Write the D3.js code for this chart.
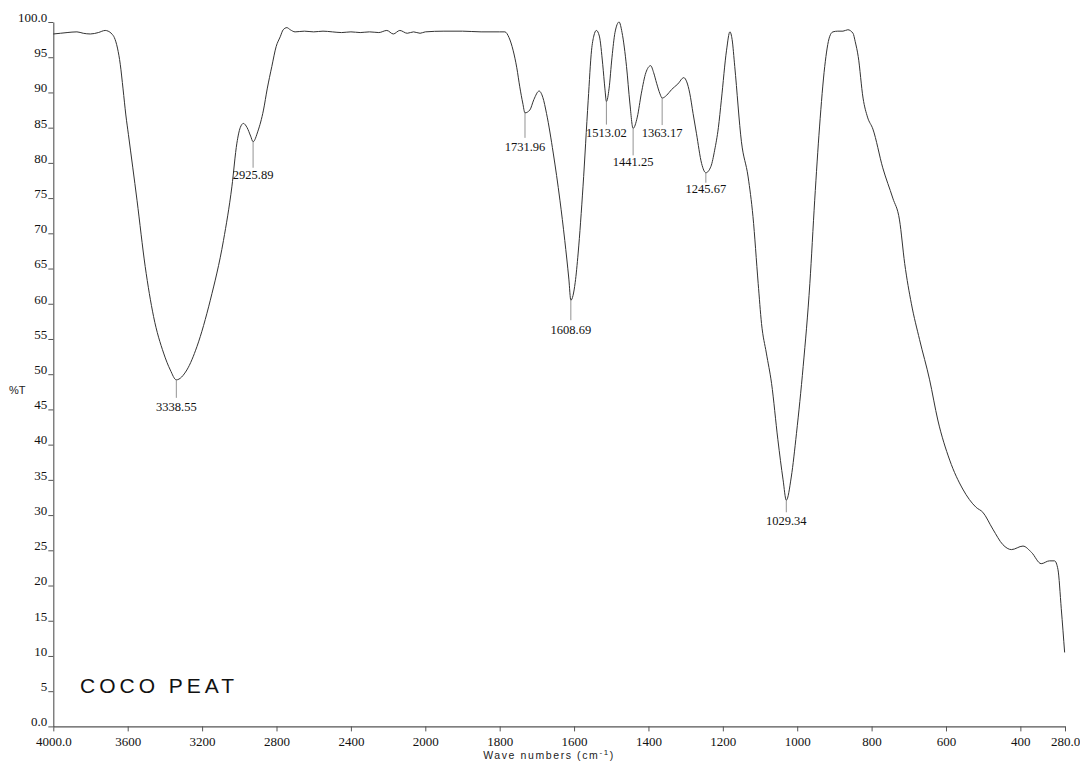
<!DOCTYPE html>
<html>
<head>
<meta charset="utf-8">
<script src="https://cdnjs.cloudflare.com/ajax/libs/d3/7.8.5/d3.min.js"></script>
<style>
  html, body { margin: 0; padding: 0; background: #fff; }
  svg { display: block; }
</style>
</head>
<body>
<svg id="chart" width="1080" height="761"></svg>
<script>
// ---- data ----
const wavenumbers = [
  4000, 3962, 3926, 3873, 3839, 3801, 3758, 3721, 3705, 3685, 3672, 3655, 3640, 3625, 3610, 3596, 3550, 3506,
  3461, 3407, 3371, 3338.55, 3282, 3228, 3156, 3085, 3040, 3013, 2995, 2978, 2958, 2939, 2925.89,
  2900, 2870, 2850, 2825, 2802, 2780, 2764, 2744, 2726, 2700, 2650, 2600, 2550, 2500, 2450, 2400,
  2350, 2300, 2250, 2207, 2172, 2137, 2097, 2063, 2028, 2000, 1950, 1900, 1850, 1800, 1786,
  1775, 1764, 1754, 1746, 1738, 1731.96, 1719, 1708, 1694, 1684, 1674, 1656, 1638, 1625, 1614,
  1608.69, 1597, 1589, 1576, 1562, 1553, 1547, 1540, 1532, 1523, 1517, 1513.02, 1506, 1498, 1490,
  1479, 1471, 1459, 1450, 1441.25, 1430, 1419, 1407, 1394, 1386, 1378, 1369, 1363.17, 1351, 1338,
  1321, 1305, 1297, 1289, 1280, 1271, 1257, 1245.67, 1232, 1222, 1212, 1204, 1190, 1181, 1175,
  1168, 1150, 1132, 1119, 1105, 1096, 1083, 1069, 1052, 1038, 1029.34, 1016, 1002, 984, 966,
  953, 940, 926, 913, 904, 891, 877, 864, 850, 844, 836, 823, 811, 796.5, 770, 743, 725, 711,
  693, 671, 644, 622, 590, 555, 519, 501, 474, 447, 424, 393, 370, 344, 322, 308, 299, 290, 281
];
const transmittance = [
  98.3, 98.4, 98.5, 98.6, 98.4, 98.3, 98.5, 98.8, 98.7, 98.3, 97.8, 96.3, 94.0, 90.5, 86.8, 84.0, 74.7, 65.3,
  58.2, 53.0, 50.6, 49.2, 50.6, 53.9, 60.5, 69.0, 76.6, 82.8, 85.0, 85.6, 85.0, 83.8, 83.0,
  84.5, 87.5, 90.5, 93.7, 96.5, 97.9, 98.9, 99.2, 98.9, 98.6, 98.7, 98.6, 98.7, 98.6, 98.5, 98.6,
  98.5, 98.6, 98.5, 98.8, 98.3, 98.8, 98.4, 98.6, 98.4, 98.6, 98.7, 98.7, 98.6, 98.6, 98.6,
  97.8, 96.0, 93.5, 90.8, 88.5, 87.1, 87.5, 89.0, 90.2, 89.3, 87.0, 81.4, 74.7, 69.0, 63.5,
  60.5, 63.0, 67.2, 76.6, 88.9, 96.0, 98.0, 98.8, 98.0, 94.0, 90.5, 88.7, 90.5, 95.0, 98.5,
  100.0, 98.5, 93.7, 88.5, 84.9, 86.5, 89.9, 92.8, 93.8, 92.8, 91.3, 89.8, 89.2, 89.6, 90.4,
  91.2, 92.1, 91.5, 89.9, 87.0, 84.2, 79.9, 78.6, 79.5, 81.8, 85.0, 88.9, 96.0, 98.6, 97.5,
  93.7, 83.0, 78.0, 72.4, 62.9, 57.2, 53.0, 48.7, 40.7, 35.0, 32.1, 35.4, 41.6, 51.1, 62.9,
  74.7, 85.1, 93.7, 97.9, 98.6, 98.7, 98.7, 98.9, 98.4, 97.2, 95.1, 89.2, 86.5, 84.8, 79.3, 75.0, 71.9, 65.7,
  60.0, 54.9, 49.2, 43.5, 37.8, 33.7, 31.1, 30.4, 28.0, 25.8, 25.1, 25.6, 24.7, 23.1, 23.5, 23.5, 22.3, 16.7, 10.5
];
const peakWavenumbers = [3338.55, 2925.89, 1731.96, 1608.69, 1513.02, 1441.25, 1363.17, 1245.67, 1029.34];
const peakTransmittance = [49.2, 83.0, 87.1, 60.5, 88.7, 84.9, 89.2, 78.6, 32.1];
const peakLabels = ["3338.55", "2925.89", "1731.96", "1608.69", "1513.02", "1441.25", "1363.17", "1245.67", "1029.34"];
const xTickValues = [4000, 3600, 3200, 2800, 2400, 2000, 1800, 1600, 1400, 1200, 1000, 800, 600, 400, 280];
const yTickValues = [0, 5, 10, 15, 20, 25, 30, 35, 40, 45, 50, 55, 60, 65, 70, 75, 80, 85, 90, 95, 100];
const xTitle = "Wave numbers (cm";
const yTitle = "%T";
const sampleName = "COCO PEAT";

// ---- layout ----
const labelLine = [18, 26, 25, 20, 23, 27, 27, 10, 12];   // leader length below the dip (px)
const labelBase = [31, 37, 38, 34, 35, 38, 39, 20, 25];   // label baseline below the dip (px)

const svg = d3.select("#chart");
const x = d3.scaleLinear().domain([4000, 2000, 280]).range([53.3, 425.3, 1065]);
const y = d3.scaleLinear().domain([0, 100]).range([726.4, 22]);

const serif = "'Liberation Serif', 'Times New Roman', serif";
const sans = "'Liberation Sans', Arial, sans-serif";

// x axis
const xAxis = svg.append("g")
  .attr("transform", `translate(0,${y(0)})`)
  .call(d3.axisBottom(x).tickValues(xTickValues).tickSize(5).tickSizeOuter(0)
    .tickFormat(d => (d === 4000 || d === 280) ? d3.format(".1f")(d) : String(d)));
xAxis.select(".domain").attr("stroke", "#555").attr("stroke-width", 1.1);
xAxis.selectAll(".tick line").attr("stroke", "#555");
xAxis.selectAll(".tick text").attr("font-family", serif).attr("font-size", 13)
  .attr("fill", "#111").attr("dy", "0.71em").attr("y", 10);

// y axis
const yAxis = svg.append("g")
  .attr("transform", `translate(${x(4000)},0)`)
  .call(d3.axisLeft(y).tickValues(yTickValues).tickSize(5).tickSizeOuter(0)
    .tickFormat(d => (d === 0 || d === 100) ? d3.format(".1f")(d) : String(d)));
yAxis.select(".domain").attr("stroke", "#555").attr("stroke-width", 1.1);
yAxis.selectAll(".tick line").attr("stroke", "#555");
yAxis.selectAll(".tick text").attr("font-family", serif).attr("font-size", 13)
  .attr("fill", "#111").attr("x", -6).attr("dy", "-0.05em");

// axis titles
const xt = svg.append("text")
  .attr("x", 549).attr("y", 759)
  .attr("text-anchor", "middle")
  .attr("font-family", sans).attr("font-size", 10.5).attr("letter-spacing", 1.6)
  .attr("fill", "#222");
xt.append("tspan").text(xTitle);
xt.append("tspan").attr("dy", -4).attr("font-size", 8).text("-1");
xt.append("tspan").attr("dy", 4).text(")");

svg.append("text")
  .attr("x", 9).attr("y", 394)
  .attr("font-family", sans).attr("font-size", 11)
  .attr("fill", "#222").text(yTitle);

// sample name
svg.append("text")
  .attr("x", 80).attr("y", 693)
  .attr("font-family", sans).attr("font-size", 21).attr("letter-spacing", 4)
  .attr("fill", "#111").text(sampleName);

// spectrum
const pts = wavenumbers.map((w, i) => [w, transmittance[i]]);
svg.append("path")
  .datum(pts)
  .attr("fill", "none")
  .attr("stroke", "#333")
  .attr("stroke-width", 1)
  .attr("d", d3.line().x(d => x(d[0])).y(d => y(d[1])).curve(d3.curveMonotoneX));

// peak labels
const peaks = peakWavenumbers.map((w, i) => ({ w, t: peakTransmittance[i], label: peakLabels[i], i }));
const pg = svg.append("g");
pg.selectAll("line").data(peaks).join("line")
  .attr("x1", d => x(d.w)).attr("x2", d => x(d.w))
  .attr("y1", d => y(d.t)).attr("y2", d => y(d.t) + labelLine[d.i])
  .attr("stroke", "#777").attr("stroke-width", 0.8);
pg.selectAll("text").data(peaks).join("text")
  .attr("x", d => x(d.w)).attr("y", d => y(d.t) + labelBase[d.i])
  .attr("text-anchor", "middle")
  .attr("font-family", serif).attr("font-size", 12.5)
  .attr("fill", "#111").text(d => d.label);
</script>
</body>
</html>
